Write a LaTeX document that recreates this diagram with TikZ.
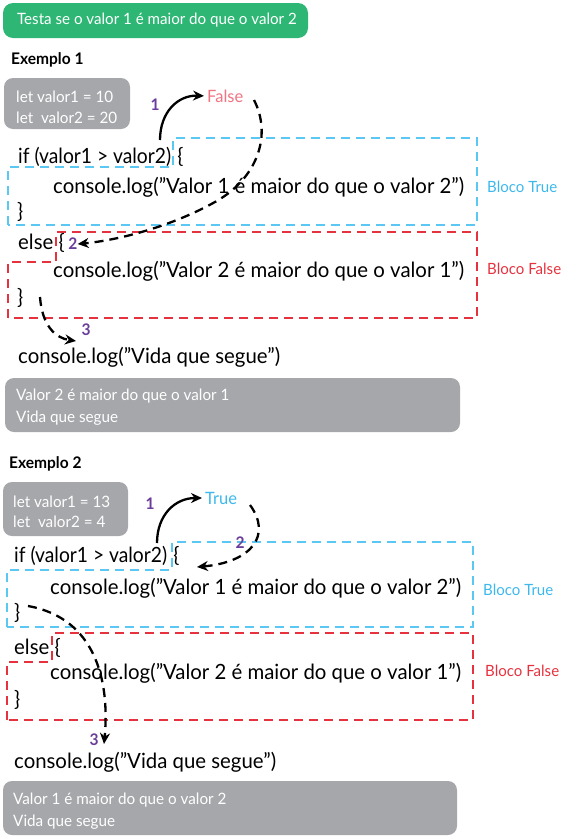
\documentclass[tikz,border=0pt]{standalone}
\usepackage{fontspec}
\usepackage{graphicx}
\setmainfont[FakeStretch=0.97]{Lato}
\usetikzlibrary{arrows.meta}
\definecolor{tgreen}{HTML}{2EB774}
\definecolor{tgray}{HTML}{A6A7AA}
\definecolor{tblue}{HTML}{5AC8F2}
\definecolor{tbluetext}{HTML}{3DB8EC}
\definecolor{tred}{HTML}{E6323E}
\definecolor{tpink}{HTML}{F17482}
\definecolor{tpurple}{HTML}{6A3D9A}
\tikzset{
  code/.style={anchor=west, inner sep=0pt, font=\fontsize{21}{21}\selectfont},
  graytext/.style={anchor=west, inner sep=0pt, text=white, font=\fontsize{15.7}{15.7}\selectfont},
  heading/.style={anchor=west, inner sep=0pt, font=\bfseries\fontsize{16}{16}\selectfont},
  stepnum/.style={inner sep=0pt, text=tpurple, font=\bfseries\fontsize{16}{16}\selectfont},
  blocklabel/.style={anchor=west, inner sep=0pt, font=\fontsize{15.5}{15.5}\selectfont},
  answer/.style={anchor=west, inner sep=0pt, font=\fontsize{17}{17}\selectfont},
  truebox/.style={draw=tblue, line width=1.3pt, dash pattern=on 9pt off 6pt},
  falsebox/.style={draw=tred, line width=1.1pt, dash pattern=on 9pt off 6pt},
  solidarrow/.style={draw=black, line width=2.3pt, -{Stealth[length=11pt,width=10pt]}},
  dasharrow/.style={draw=black, line width=2.3pt, dash pattern=on 9pt off 6pt, -{Stealth[length=11pt,width=10pt]}},
}
\newcommand{\ifline}{\scalebox{0.945}[1]{if (valor1 > valor2)}\hspace{0.3em}\{}
\begin{document}
\begin{tikzpicture}[x=1pt,y=-1pt]
\useasboundingbox (0,0) rectangle (563,836);

% title
\fill[tgreen, rounded corners=10pt] (3,3) rectangle (308,38);
\node[inner sep=0pt, text=white, font=\fontsize{15.6}{15.6}\selectfont] (title) at (157,20) {Testa se o valor 1 é maior do que o valor 2};

% ===== Exemplo 1 =====
\node[heading] (ex1) at (11,60) {Exemplo 1};
\fill[tgray, rounded corners=9pt] (4,78) rectangle (130,129);
\node[graytext] (v1a) at (16,97) {let valor1 = 10};
\node[graytext] (v1b) at (16,118) {let\ \ valor2 = 20};

\draw[truebox] (8,225) -- (8,167) -- (173,167) -- (173,138) -- (477,138) -- (477,225) -- cycle;
\draw[falsebox] (8,318) -- (8,262) -- (56,262) -- (56,232) -- (477,232) -- (477,318) -- cycle;

\node[code] (if1) at (18,157) {\ifline};
\node[code] (c1a) at (53,187) {console.log("Valor 1 é maior do que o valor 2")};
\node[code] (cl1) at (17,212) {\}};
\node[code] (else1) at (18,243) {else \{};
\node[code] (c1b) at (53,271) {console.log("Valor 2 é maior do que o valor 1")};
\node[code] (cl1b) at (17,298) {\}};
\node[code] (vida1) at (18,357) {console.log("Vida que segue")};

\node[blocklabel, text=tbluetext] (bt1) at (487,187) {Bloco True};
\node[blocklabel, text=tred] (bf1) at (487,269) {Bloco False};
\node[answer, text=tpink] (false1) at (207,96) {False};

\node[stepnum] (n11) at (155,105) {1};
\node[stepnum] (n12) at (73,244) {2};
\node[stepnum] (n13) at (86,330) {3};

\coordinate (s11) at (160,140);
\draw[solidarrow, shorten >=3pt] (s11) .. controls (160,112) and (178,95) .. (false1.west);
\coordinate (s12) at (254,100);
\draw[dasharrow] (s12) .. controls (272,135) and (258,178) .. (215,202) .. controls (172,226) and (120,240) .. (n12.east);
\coordinate (s13) at (40,297);
\draw[dasharrow] (s13) .. controls (42,325) and (55,338) .. (76,341);

\fill[tgray, rounded corners=9pt] (5,378) rectangle (460,432);
\node[graytext] (r1a) at (16,396) {Valor 2 é maior do que o valor 1};
\node[graytext] (r1b) at (16,418) {Vida que segue};

% ===== Exemplo 2 =====
\node[heading] (ex2) at (9,464) {Exemplo 2};
\fill[tgray, rounded corners=9pt] (3,482) rectangle (128,536);
\node[graytext] (v2a) at (13,502) {let valor1 = 13};
\node[graytext] (v2b) at (13,522) {let\ \ valor2 = 4};

\draw[truebox] (7,627) -- (7,570) -- (172,570) -- (172,542) -- (473,542) -- (473,627) -- cycle;
\draw[falsebox] (7,720) -- (7,662) -- (52,662) -- (52,633) -- (473,633) -- (473,720) -- cycle;

\node[code] (if2) at (14,556) {\ifline};
\node[code] (c2a) at (50,588) {console.log("Valor 1 é maior do que o valor 2")};
\node[code] (cl2) at (14,613) {\}};
\node[code] (else2) at (14,648) {else \{};
\node[code] (c2b) at (50,673) {console.log("Valor 2 é maior do que o valor 1")};
\node[code] (cl2b) at (14,700) {\}};
\node[code] (vida2) at (14,762) {console.log("Vida que segue")};

\node[blocklabel, text=tbluetext] (bt2) at (483,590) {Bloco True};
\node[blocklabel, text=tred] (bf2) at (485,671) {Bloco False};
\node[answer, text=tbluetext] (true2) at (205,498) {True};

\node[stepnum] (n21) at (150,504) {1};
\node[stepnum] (n22) at (240,543) {2};
\node[stepnum] (n23) at (94,740) {3};

\coordinate (s21) at (157,543);
\draw[solidarrow, shorten >=3pt] (s21) .. controls (157,515) and (175,498) .. (true2.west);
\coordinate (s22) at (250,505);
\coordinate (e22) at (197,567);
\draw[dasharrow] (s22) .. controls (272,535) and (252,562) .. (e22);
\coordinate (s23) at (28,606);
\coordinate (e23) at (104,744);
\draw[dasharrow] (s23) .. controls (95,618) and (110,680) .. (e23);

\fill[tgray, rounded corners=9pt] (3,781) rectangle (457,835);
\node[graytext] (r2a) at (13,800) {Valor 1 é maior do que o valor 2};
\node[graytext] (r2b) at (13,822) {Vida que segue};
\end{tikzpicture}
\end{document}
